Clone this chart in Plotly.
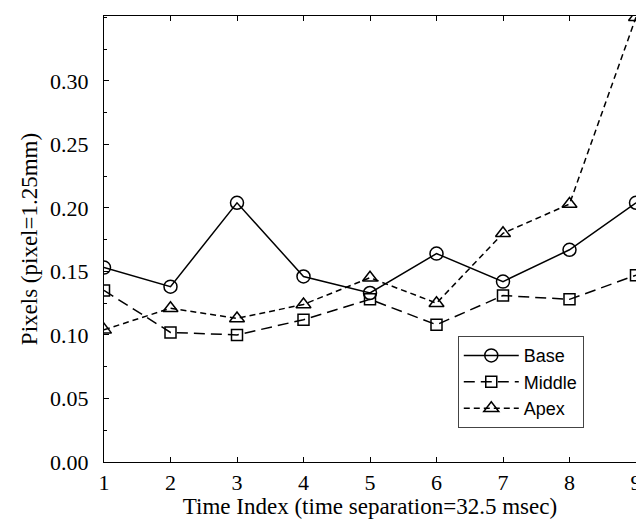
import plotly.graph_objects as go

time_index = [1, 2, 3, 4, 5, 6, 7, 8, 9]
base = [0.153, 0.138, 0.204, 0.146, 0.133, 0.164, 0.142, 0.167, 0.204]
middle = [0.135, 0.102, 0.100, 0.112, 0.128, 0.108, 0.131, 0.128, 0.147]
apex = [0.104, 0.121, 0.113, 0.124, 0.145, 0.125, 0.180, 0.203, 0.350]

x_ticks = [1, 2, 3, 4, 5, 6, 7, 8, 9]
y_ticks = [0.00, 0.05, 0.10, 0.15, 0.20, 0.25, 0.30]
y_tick_text = ["0.00", "0.05", "0.10", "0.15", "0.20", "0.25", "0.30"]

serif = "Liberation Serif"

fig = go.Figure()
fig.add_trace(go.Scatter(
    x=time_index, y=base, name="Base", mode="lines+markers",
    line=dict(color="black", width=1.5, dash="solid"),
    marker=dict(symbol="circle-open", size=13, color="black", line=dict(width=1.5)),
))
fig.add_trace(go.Scatter(
    x=time_index, y=middle, name="Middle", mode="lines+markers",
    line=dict(color="black", width=1.5, dash="11px,6px"),
    marker=dict(symbol="square-open", size=11, color="black", line=dict(width=1.5)),
))
fig.add_trace(go.Scatter(
    x=time_index, y=apex, name="Apex", mode="lines+markers",
    line=dict(color="black", width=1.5, dash="6px,4px"),
    marker=dict(symbol="triangle-up-open", size=13, color="black", line=dict(width=1.5)),
))

fig.update_layout(
    width=636, height=529,
    margin=dict(l=104, r=0, t=16, b=67, autoexpand=False),
    paper_bgcolor="white", plot_bgcolor="white",
    font=dict(family=serif, size=22, color="black"),
    showlegend=True,
    legend=dict(
        x=0.665, y=0.282, xanchor="left", yanchor="top",
        bgcolor="white", bordercolor="#444", borderwidth=1,
        font=dict(family="Liberation Sans", size=18, color="black"),
        tracegroupgap=0, itemwidth=55,
    ),
    xaxis=dict(
        range=[1, 9], tickvals=x_ticks, ticktext=[str(v) for v in x_ticks],
        showline=True, linecolor="black", linewidth=1.2, mirror="ticks",
        ticks="inside", ticklen=5, tickcolor="black",
        showgrid=False, zeroline=False, automargin=False,
        tickfont=dict(family=serif, size=22),
        ticklabelstandoff=0, ticklabeloverflow="allow",
        title=dict(text="Time Index (time separation=32.5 msec)",
                   font=dict(family=serif, size=23), standoff=0),
    ),
    yaxis=dict(
        range=[0, 0.351], tickvals=y_ticks, ticktext=y_tick_text,
        showline=True, linecolor="black", linewidth=1.2, mirror=False,
        ticks="inside", ticklen=5, tickcolor="black",
        minor=dict(ticks="inside", dtick=0.025, tick0=0, ticklen=3, tickcolor="black"),
        showgrid=False, zeroline=False, automargin=False,
        tickfont=dict(family=serif, size=22),
        ticklabelstandoff=10,
        title=dict(text="Pixels (pixel=1.25mm)",
                   font=dict(family=serif, size=23), standoff=5),
    ),
)

fig.write_html("out.html")
